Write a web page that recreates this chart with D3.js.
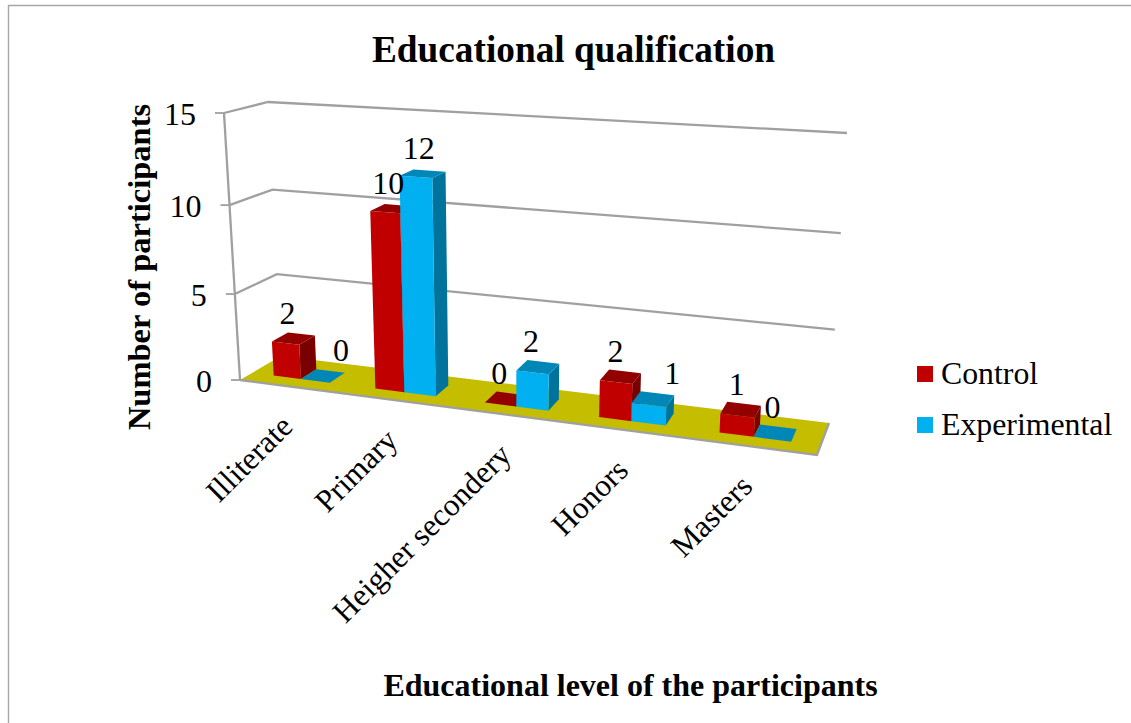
<!DOCTYPE html>
<html><head><meta charset="utf-8">
<script src="https://cdn.jsdelivr.net/npm/d3@7"></script>
<style>html,body{margin:0;padding:0;background:#fff}svg{display:block}text{font-family:"Liberation Serif","Times New Roman",serif;fill:#000}</style>
</head><body><svg id="c" width="1131" height="723"></svg>
<script>
const categories = ["Illiterate","Primary","Heigher secondery","Honors","Masters"];
const control = [2,10,0,2,1];
const experimental = [0,12,2,1,0];
const valueTicks = [0,5,10,15];
const seriesNames = ["Control","Experimental"];
const seriesColors = ["#C00000","#00B0F0"];
const topColors = ["#930000","#0087B8"];
const sideColors = ["#7A0000","#00739D"];

const W = 1131, H = 723;
const svg = d3.select("#c");

// Perspective-like scales: category index -> floor fraction, value -> height fraction
const uScale = d3.scaleLinear().domain([0,.5,1.5,2.5,3.5,4.5,5]).range([0,.0855,.2675,.4645,.667,.8825,1]);
const wScale = d3.scaleLinear().domain(valueTicks).range([0,.322,.655,1]);
const corners = {fl0:[240,380],fl1:[224,113],bl0:[281,356],bl1:[268,102],fr0:[817,455],fr1:[836,150],br0:[829,423],br1:[847,133]};
const lerp = d3.interpolateNumber;
function mix(a,b,t){return [lerp(a[0],b[0])(t),lerp(a[1],b[1])(t)];}
function project(t,v,val){
  const u=uScale(t), w=wScale(val);
  const f0=mix(corners.fl0,corners.fr0,u), f1=mix(corners.fl1,corners.fr1,u);
  const b0=mix(corners.bl0,corners.br0,u), b1=mix(corners.bl1,corners.br1,u);
  return mix(mix(f0,b0,v),mix(f1,b1,v),w);
}
const path = d3.line();
const closed = pts => path(pts)+"Z";
const grid = "#A0A0A0";

// frame
svg.append("path").attr("d","M8.5,723V5.5H1131").attr("fill","none").attr("stroke","#A6A6A6").attr("stroke-width",1.4);

// gridlines: left wall + back wall
svg.append("g").selectAll("path").data(valueTicks.slice(1)).join("path")
  .attr("d",d=>path([project(0,0,d),project(0,1,d),project(5,1,d)]))
  .attr("fill","none").attr("stroke",grid).attr("stroke-width",2.3);
// value axis
svg.append("path").attr("d",path([project(0,0,0),project(0,0,15)])).attr("fill","none").attr("stroke",grid).attr("stroke-width",2.3);
svg.append("g").selectAll("path").data(valueTicks).join("path")
  .attr("d",d=>{const p=project(0,0,d);return path([[p[0]-9,p[1]],p]);})
  .attr("fill","none").attr("stroke",grid).attr("stroke-width",1.8);
svg.append("g").selectAll("text").data(valueTicks).join("text")
  .attr("x",d=>project(0,0,d)[0]-28)
  .attr("y",d=>project(0,0,d)[1]+12)
  .attr("text-anchor","end").attr("font-size",32).text(d=>d);

// floor
svg.append("path").attr("d",closed([project(0,0,0),project(0,1,0),project(5,1,0),project(5,0,0)]))
  .attr("fill","#C4BD00").attr("stroke","none");
svg.append("path").attr("d",path([project(0,0,0),project(5,0,0),project(5,1,0)]))
  .attr("fill","none").attr("stroke",grid).attr("stroke-width",2.3);

// bars
const halfWidth = .28, vFront = .3, vBack = .7;
const series = [control,experimental];
const barData = categories.flatMap((c,i)=>series.map((vals,s)=>({i,s,value:vals[i]})));
const bars = svg.append("g").selectAll("g").data(barData).join("g");
const t0 = d=>d.i+.5+(d.s-1)*halfWidth, t1 = d=>d.i+.5+d.s*halfWidth;
bars.append("path").attr("fill",d=>sideColors[d.s])
  .attr("d",d=>closed([project(t1(d),vFront,0),project(t1(d),vBack,0),project(t1(d),vBack,d.value),project(t1(d),vFront,d.value)]));
bars.append("path").attr("fill",d=>seriesColors[d.s])
  .attr("d",d=>closed([project(t0(d),vFront,0),project(t1(d),vFront,0),project(t1(d),vFront,d.value),project(t0(d),vFront,d.value)]));
bars.append("path").attr("fill",d=>topColors[d.s])
  .attr("d",d=>closed([project(t0(d),vFront,d.value),project(t1(d),vFront,d.value),project(t1(d),vBack,d.value),project(t0(d),vBack,d.value)]));

// data labels (nudges are layout only)
const labelNudgeX = [-6,18,-4,-4,-7,-7,-5,19,-4,-3];
svg.append("g").selectAll("text").data(barData).join("text")
  .attr("x",(d,k)=>project((t0(d)+t1(d))/2,.5,d.value)[0]+labelNudgeX[k])
  .attr("y",d=>project((t0(d)+t1(d))/2,.5,d.value)[1]-15)
  .attr("text-anchor","middle").attr("font-size",32).text(d=>d.value);

// category labels
svg.append("g").selectAll("text").data(categories).join("text")
  .attr("transform",(d,i)=>{const p=project(i+.5,0,0);return `translate(${p[0]+5},${p[1]+42}) rotate(-45)`;})
  .attr("text-anchor","end").attr("font-size",31.5).text(d=>d);

// titles
svg.append("text").attr("x",573.5).attr("y",61.5).attr("text-anchor","middle").attr("font-size",37.3).attr("font-weight","bold").text("Educational qualification");
svg.append("text").attr("x",630.5).attr("y",696).attr("text-anchor","middle").attr("font-size",32).attr("font-weight","bold").text("Educational level of the participants");
svg.append("text").attr("transform","translate(150,267) rotate(-90)").attr("text-anchor","middle").attr("font-size",32.5).attr("font-weight","bold").text("Number of participants");

// legend
const legend = svg.append("g").selectAll("g").data(seriesNames).join("g")
  .attr("transform",(d,i)=>`translate(917,${366+i*51})`);
legend.append("rect").attr("width",16).attr("height",16).attr("fill",(d,i)=>seriesColors[i]);
legend.append("text").attr("x",24).attr("y",18).attr("font-size",31.8).text(d=>d);
</script></body></html>
